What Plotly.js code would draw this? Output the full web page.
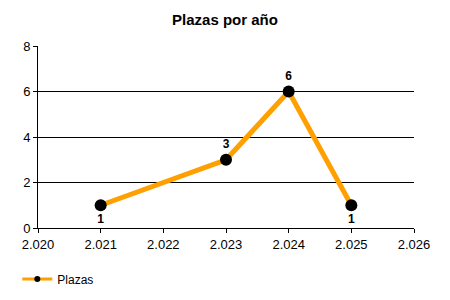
<!DOCTYPE html>
<html>
<head>
<meta charset="utf-8">
<script src="https://cdn.plot.ly/plotly-3.0.1.min.js"></script>
<style>html,body{margin:0;padding:0;background:#fff;}#chart{width:450px;height:300px;}</style>
</head>
<body>
<div id="chart"></div>
<script>
const years = [2021, 2023, 2024, 2025];
const plazas = [1, 3, 6, 1];
const labelPositions = ['bottom center', 'top center', 'top center', 'bottom center'];
const seriesName = 'Plazas';
const chartTitle = 'Plazas por año';

const trace = {
  x: years,
  y: plazas,
  name: seriesName,
  type: 'scatter',
  mode: 'lines+markers+text',
  text: plazas.map(String),
  textposition: labelPositions,
  textfont: {family: 'Liberation Sans, Arial, sans-serif', size: 12, color: '#000', weight: 'bold'},
  line: {color: '#FFA000', width: 5},
  marker: {color: '#000', size: 12},
  hoverinfo: 'none',
  cliponaxis: false,
  showlegend: false
};

// legend entry for the same series, drawn with the smaller legend symbol
const legendEntry = {
  x: [null], y: [null],
  name: seriesName,
  type: 'scatter',
  mode: 'lines+markers',
  line: {color: '#FFA000', width: 3},
  marker: {color: '#000', size: 6},
  hoverinfo: 'none',
  showlegend: true
};

const layout = {
  width: 450, height: 300,
  margin: {l: 37.5, r: 35.5, t: 46, b: 71.7, autoexpand: false},
  paper_bgcolor: '#fff', plot_bgcolor: '#fff',
  separators: ',.',
  font: {family: 'Liberation Sans, Arial, sans-serif', size: 12, color: '#000'},
  title: {text: '<b>' + chartTitle + '</b>', x: 0.5, xanchor: 'center', y: 1 - 20/300, yanchor: 'middle',
          font: {family: 'Liberation Sans, Arial, sans-serif', size: 15, color: '#000'}},
  xaxis: {
    range: [2020, 2026], dtick: 1, tick0: 2020, tickformat: ',d',
    showgrid: false, zeroline: false,
    showline: true, linecolor: '#000', linewidth: 1,
    ticks: 'outside', ticklen: 4, tickcolor: '#000',
    tickfont: {size: 13}
  },
  yaxis: {
    range: [0, 8], dtick: 2, tick0: 0,
    showgrid: true, gridcolor: '#000', gridwidth: 1,
    zeroline: false,
    showline: true, linecolor: '#000', linewidth: 1,
    ticks: 'outside', ticklen: 4, tickcolor: '#000',
    tickfont: {size: 13}
  },
  showlegend: true,
  legend: {orientation: 'h', x: -0.055, xanchor: 'left', y: -0.2, yanchor: 'top',
           itemwidth: 30,
           font: {size: 12, color: '#000'}, bgcolor: 'rgba(0,0,0,0)'}
};

Plotly.newPlot('chart', [trace, legendEntry], layout, {displayModeBar: false, staticPlot: true});
</script>
</body>
</html>
